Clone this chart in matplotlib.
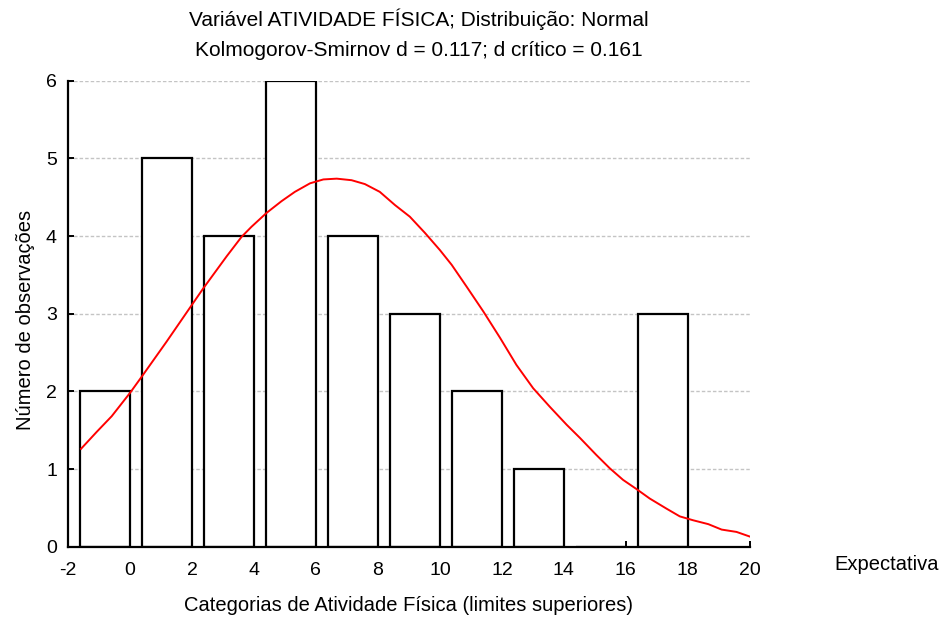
import numpy as np
import matplotlib.pyplot as plt

plt.rcParams['font.family'] = ['Liberation Sans', 'DejaVu Sans']
plt.rcParams['axes.unicode_minus'] = False

# limites superiores das categorias e contagens observadas
upper_limits = [0, 2, 4, 6, 8, 10, 12, 14, 16, 18]
counts = [2, 5, 4, 6, 4, 3, 2, 1, 0, 3]

# curva normal esperada
curve_x = [-1.58, -1.07, -0.59, 0.0, 0.38, 1.18, 1.99, 2.37, 3.12, 3.6, 3.92,
           4.41, 4.89, 5.32, 5.81, 6.24, 6.67, 7.15, 7.58, 8.06, 8.55, 9.03,
           9.52, 10.0, 10.38, 10.86, 11.40, 11.94, 12.47, 13.01, 13.55, 14.09,
           14.52, 15.05, 15.48, 15.91, 16.35, 16.77, 17.31, 17.74, 18.17,
           18.66, 19.09, 19.57, 20.0]
curve_y = [1.26, 1.48, 1.68, 1.98, 2.19, 2.64, 3.11, 3.33, 3.74, 3.99, 4.12,
           4.30, 4.45, 4.57, 4.68, 4.73, 4.74, 4.72, 4.67, 4.57, 4.40, 4.25,
           4.04, 3.82, 3.63, 3.35, 3.03, 2.69, 2.34, 2.04, 1.80, 1.57,
           1.40, 1.18, 1.01, 0.86, 0.74, 0.62, 0.49, 0.39, 0.34,
           0.29, 0.22, 0.19, 0.13]

fig = plt.figure(figsize=(9.47, 6.17), dpi=100)
ax = fig.add_axes([0.0718, 0.114, 0.72, 0.755])

ax.bar(upper_limits, counts, width=-1.62, align='edge',
       facecolor='white', edgecolor='black', linewidth=1.6, zorder=2)
ax.plot(curve_x, curve_y, color='red', linewidth=1.4, zorder=3)

ax.set_xlim(-2, 20)
ax.set_ylim(0, 6)
ax.set_xticks(range(-2, 21, 2))
ax.set_yticks(range(0, 7))
ax.yaxis.grid(True, color='#c4c4c4', linestyle=(0, (2.5, 1.5)), linewidth=1.0, zorder=0)
ax.set_axisbelow(True)
ax.tick_params(direction='in', length=4, width=1.4, labelsize=14)
ax.tick_params(axis='x', pad=11)
ax.tick_params(axis='y', pad=8)
ax.spines['top'].set_visible(False)
ax.spines['right'].set_visible(False)
for s in ['left', 'bottom']:
    ax.spines[s].set_linewidth(1.6)

ax.set_xlabel('Categorias de Atividade Física (limites superiores)', fontsize=14.5)
ax.set_ylabel('Número de observações', fontsize=14.5)
ax.xaxis.set_label_coords(0.5, -0.105)
ax.yaxis.set_label_coords(-0.049, 0.487)

fig.text(0.442, 0.968, 'Variável ATIVIDADE FÍSICA; Distribuição: Normal',
         ha='center', va='center', fontsize=15)
fig.text(0.442, 0.918, 'Kolmogorov-Smirnov d = 0.117; d crítico = 0.161',
         ha='center', va='center', fontsize=15)
fig.text(0.881, 0.085, 'Expectativa', ha='left', va='center', fontsize=14.5)

fig.savefig('out.png', dpi=100)
